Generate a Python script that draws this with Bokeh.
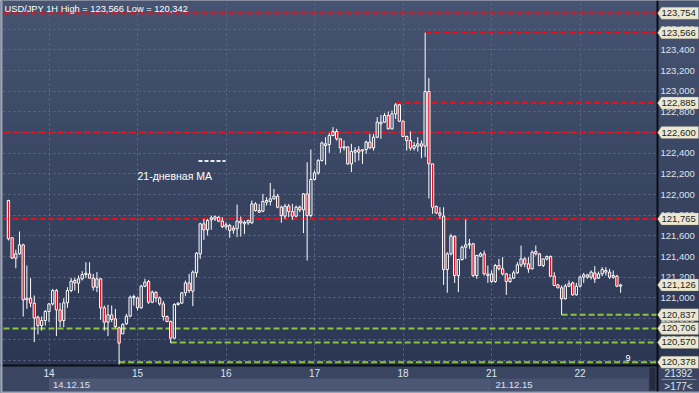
import numpy as np
from bokeh.plotting import figure
from bokeh.models import (Range1d, FixedTicker, CustomJSTickFormatter, Label,
                          BoxAnnotation, PolyAnnotation, Arrow, ColumnDataSource)
from bokeh.embed import file_html
from bokeh.resources import INLINE

# ---------------- data (USD/JPY, 1H bars, 11.12.15 13:00 .. 22.12.15 11:00) ----------------
opens = [
    121.943, 121.582, 121.385, 121.427, 121.514, 120.982, 120.998, 120.950, 120.814, 120.734,
    120.782, 120.869, 120.943, 121.072, 120.885, 120.782, 120.953, 121.072, 121.169, 121.143,
    121.185, 121.227, 121.233, 121.192, 121.104, 121.185, 120.905, 120.766, 120.837, 120.798,
    120.711, 120.653, 120.750, 120.824, 121.001, 121.001, 120.905, 121.114, 121.159, 120.959,
    121.056, 121.001, 120.943, 120.821, 120.772, 120.611, 120.937, 120.950, 121.050, 121.146,
    121.066, 121.243, 121.427, 121.717, 121.659, 121.756, 121.765, 121.781, 121.743, 121.688,
    121.701, 121.656, 121.669, 121.743, 121.717, 121.727, 121.727, 121.910, 121.830, 121.839,
    121.926, 121.933, 121.959, 121.985, 121.878, 121.791, 121.888, 121.836, 121.791, 121.878,
    121.852, 122.007, 121.797, 122.146, 122.210, 122.329, 122.474, 122.484, 122.571, 122.610,
    122.539, 122.452, 122.462, 122.297, 122.410, 122.433, 122.423, 122.436, 122.507, 122.452,
    122.555, 122.684, 122.700, 122.765, 122.636, 122.781, 122.868, 122.710, 122.562, 122.523,
    122.449, 122.468, 122.491, 122.468, 122.997, 122.297, 121.885, 121.823, 121.791, 121.275,
    121.427, 121.598, 121.217, 121.372, 121.491, 121.514, 121.524, 121.217, 121.404, 121.427,
    121.217, 121.233, 121.159, 121.314, 121.282, 121.233, 121.159, 121.192, 121.243, 121.320,
    121.378, 121.330, 121.282, 121.449, 121.427, 121.314, 121.378, 121.401, 121.211, 121.127,
    121.098, 120.992, 121.114, 121.146, 121.030, 121.114, 121.201, 121.224, 121.201, 121.243,
    121.192, 121.233, 121.266, 121.250, 121.201, 121.211, 121.114]
highs = [
    121.950, 121.588, 121.466, 121.643, 121.524, 121.314, 121.192, 121.024, 120.830, 120.821,
    120.885, 120.950, 121.088, 121.088, 120.953, 120.998, 121.104, 121.195, 121.195, 121.217,
    121.259, 121.346, 121.346, 121.233, 121.250, 121.195, 120.927, 120.934, 120.927, 120.895,
    120.724, 120.756, 120.847, 121.024, 121.034, 121.014, 121.127, 121.185, 121.175, 121.072,
    121.063, 121.014, 120.969, 120.830, 120.782, 120.950, 120.959, 121.056, 121.169, 121.233,
    121.266, 121.443, 121.727, 121.765, 121.765, 121.797, 121.797, 121.790, 121.781, 121.733,
    121.717, 121.701, 121.904, 121.788, 121.749, 121.756, 121.943, 121.926, 121.910, 122.007,
    121.975, 122.113, 122.055, 122.007, 121.894, 121.910, 121.910, 121.910, 121.894, 121.894,
    122.013, 122.313, 122.436, 122.233, 122.346, 122.513, 122.555, 122.597, 122.652, 122.636,
    122.545, 122.523, 122.468, 122.491, 122.459, 122.468, 122.436, 122.523, 122.587, 122.587,
    122.749, 122.771, 122.790, 122.803, 122.813, 122.885, 122.877, 122.716, 122.571, 122.610,
    122.507, 122.555, 122.523, 123.566, 123.126, 122.297, 121.894, 121.878, 121.878, 121.443,
    121.620, 121.604, 121.378, 121.507, 121.759, 121.572, 121.533, 121.417, 121.443, 121.459,
    121.314, 121.266, 121.330, 121.378, 121.395, 121.243, 121.233, 121.266, 121.346, 121.507,
    121.395, 121.395, 121.459, 121.507, 121.436, 121.378, 121.411, 121.411, 121.250, 121.137,
    121.121, 121.137, 121.169, 121.159, 121.146, 121.217, 121.243, 121.233, 121.266, 121.308,
    121.256, 121.298, 121.298, 121.282, 121.266, 121.224, 121.137]
lows = [
    121.556, 121.378, 121.288, 121.417, 120.821, 120.895, 120.911, 120.573, 120.647, 120.685,
    120.734, 120.766, 120.927, 120.631, 120.718, 120.718, 120.905, 121.056, 121.072, 121.047,
    121.169, 121.195, 121.185, 121.072, 121.056, 120.789, 120.685, 120.631, 120.766, 120.711,
    120.342, 120.653, 120.740, 120.814, 120.927, 120.879, 120.895, 121.104, 120.943, 120.950,
    120.959, 120.927, 120.782, 120.766, 120.563, 120.605, 120.927, 120.943, 121.017, 121.047,
    120.921, 121.201, 121.378, 121.562, 121.604, 121.659, 121.745, 121.733, 121.675, 121.662,
    121.582, 121.620, 121.588, 121.594, 121.620, 121.707, 121.717, 121.836, 121.823, 121.830,
    121.894, 121.894, 121.952, 121.868, 121.727, 121.765, 121.781, 121.756, 121.781, 121.830,
    121.627, 121.362, 121.781, 122.136, 122.191, 122.320, 122.288, 122.404, 122.565, 122.523,
    122.404, 122.426, 122.288, 122.217, 122.313, 122.329, 122.297, 122.394, 122.442, 122.426,
    122.545, 122.539, 122.694, 122.629, 122.629, 122.732, 122.700, 122.555, 122.426, 122.426,
    122.426, 122.416, 122.352, 122.362, 121.962, 121.814, 121.814, 121.765, 121.127, 121.050,
    121.411, 121.146, 121.056, 121.362, 121.378, 121.475, 121.201, 121.185, 121.395, 121.217,
    121.146, 121.146, 121.146, 121.266, 121.217, 121.030, 121.146, 121.185, 121.233, 121.298,
    121.298, 121.243, 121.275, 121.411, 121.308, 121.298, 121.362, 121.201, 121.114, 121.095,
    120.837, 120.985, 121.104, 121.024, 121.024, 121.101, 121.146, 121.185, 121.179, 121.146,
    121.185, 121.211, 121.217, 121.185, 121.185, 121.104, 121.050]
closes = [
    121.572, 121.385, 121.427, 121.514, 120.982, 120.998, 120.950, 120.805, 120.734, 120.782,
    120.869, 120.943, 121.072, 120.885, 120.776, 120.953, 121.072, 121.162, 121.146, 121.185,
    121.227, 121.240, 121.192, 121.104, 121.185, 120.905, 120.766, 120.837, 120.792, 120.724,
    120.563, 120.743, 120.824, 121.008, 121.014, 120.905, 121.114, 121.153, 120.959, 121.056,
    121.001, 120.943, 120.821, 120.772, 120.611, 120.937, 120.950, 121.050, 121.146, 121.072,
    121.250, 121.433, 121.717, 121.659, 121.749, 121.775, 121.785, 121.743, 121.691, 121.707,
    121.653, 121.675, 121.743, 121.727, 121.733, 121.749, 121.910, 121.846, 121.846, 121.933,
    121.943, 121.959, 121.985, 121.878, 121.797, 121.888, 121.836, 121.791, 121.878, 121.852,
    122.007, 121.797, 122.146, 122.210, 122.329, 122.500, 122.491, 122.571, 122.610, 122.539,
    122.452, 122.462, 122.297, 122.416, 122.426, 122.410, 122.433, 122.507, 122.452, 122.555,
    122.700, 122.700, 122.765, 122.636, 122.781, 122.868, 122.710, 122.562, 122.523, 122.449,
    122.474, 122.491, 122.468, 122.997, 122.297, 121.878, 121.823, 121.800, 121.275, 121.427,
    121.598, 121.217, 121.372, 121.491, 121.514, 121.524, 121.217, 121.411, 121.427, 121.233,
    121.233, 121.159, 121.314, 121.282, 121.233, 121.159, 121.192, 121.243, 121.320, 121.378,
    121.330, 121.282, 121.443, 121.427, 121.314, 121.378, 121.401, 121.211, 121.121, 121.098,
    120.992, 121.114, 121.137, 121.030, 121.114, 121.201, 121.224, 121.201, 121.250, 121.185,
    121.233, 121.275, 121.250, 121.201, 121.217, 121.114, 121.126]

day_ticks = [12, 36, 60, 84, 108, 132, 156]
day_labels = ["14", "15", "16", "17", "18", "21", "22"]
date_ticks = [12, 132]
date_labels = ["14.12.15", "21.12.15"]
price_ticks = [120.4, 120.6, 120.8, 121.0, 121.2, 121.4, 121.6, 121.8,
               122.0, 122.2, 122.4, 122.6, 122.8, 123.0, 123.2, 123.4, 123.6]

levels = [123.754, 123.566, 122.885, 122.600, 121.765, 120.837, 120.706, 120.570, 120.378]
level_kind = ["resist", "resist", "resist", "resist", "resist",
              "support", "support", "support", "support"]
level_from_bar = [0, 114, 106, 0, 0, 151, 0, 45, 31]   # 0 = whole width
last_price = 121.126
title_text = "USD/JPY 1H High = 123,566 Low = 120,342"
ma_text = "21-дневная MA"
counter_top = "21392"
counter_bottom = ">177<"

# ---------------- layout ----------------
W, H = 699, 393
FL, FR, FT, FB = 3, 657, 3, 365          # chart area inside the canvas (px)
CX0, CX1 = -0.34, 177.0                  # bar index at FL / FR
CY0, CY1 = 120.347, 123.848              # price at FB / FT
FONT = "Liberation Sans"

def xpx(px):
    return CX0 + (px - FL) * (CX1 - CX0) / (FR - FL)

def ypx(py):
    return CY1 - (py - FT) * (CY1 - CY0) / (FB - FT)

def fmt(v):
    return f"{v:.3f}".replace(".", ",")

p = figure(width=W, height=H, x_range=Range1d(xpx(0), xpx(W)),
           y_range=Range1d(ypx(H), ypx(0)),
           output_backend="svg", toolbar_location=None, y_axis_location="right",
           min_border_left=0, min_border_top=0, min_border_right=0, min_border_bottom=0,
           background_fill_color="#37435f", border_fill_color="#37435f",
           outline_line_color=None)

# gradient background (chart + right scale)
NG = 64
grad = np.zeros((NG, 1), dtype=np.uint32)
view = grad.view(dtype=np.uint8).reshape((NG, 1, 4))
top_c = np.array([0x46, 0x54, 0x71]); bot_c = np.array([0x2c, 0x37, 0x53])
for k in range(NG):
    t = k / (NG - 1.0)
    view[k, 0, :3] = (bot_c * (1 - t) + top_c * t).astype(np.uint8)
    view[k, 0, 3] = 255
p.image_rgba(image=[grad], x=xpx(0), y=ypx(FB), dw=xpx(W) - xpx(0),
             dh=ypx(0) - ypx(FB), level="image")

# axes (drawn at fixed locations: the price scale right of the chart, days below it)
yax = p.yaxis[0]
yax.fixed_location = CX1
yax.ticker = FixedTicker(ticks=price_ticks)
yax.formatter = CustomJSTickFormatter(code="return tick.toFixed(3).replace('.', ',');")
yax.major_tick_in = 0
yax.major_tick_out = 0
yax.minor_tick_line_color = None
yax.axis_line_color = "#0b0e16"
yax.axis_line_width = 2
yax.major_label_standoff = 3
yax.major_label_text_color = "#dfe4ee"
yax.major_label_text_font = FONT
yax.major_label_text_font_size = "9.5px"

xax = p.xaxis[0]
xax.fixed_location = CY0
xax.ticker = FixedTicker(ticks=day_ticks)
xax.major_label_overrides = {t: l for t, l in zip(day_ticks, day_labels)}
xax.major_tick_in = 0
xax.major_tick_out = 0
xax.minor_tick_line_color = None
xax.axis_line_color = "#0b0e16"
xax.axis_line_width = 2
xax.major_label_standoff = 3
xax.major_label_text_color = "#dfe4ee"
xax.major_label_text_font = FONT
xax.major_label_text_font_size = "10px"

p.xgrid.ticker = FixedTicker(ticks=day_ticks)
p.ygrid.ticker = FixedTicker(ticks=price_ticks)
grid_ok = True
try:
    p.ygrid[0].cross_bounds = (CX0, CX1)
    p.xgrid[0].cross_bounds = (CY0, CY1)
except AttributeError:
    grid_ok = False
if grid_ok:
    for g in (p.xgrid[0], p.ygrid[0]):
        g.grid_line_color = "#5f6b87"
        g.grid_line_dash = "2 3"
        g.grid_line_width = 1
else:
    p.xgrid.visible = False
    p.ygrid.visible = False
    p.segment(x0=CX0, y0=price_ticks, x1=CX1, y1=price_ticks, line_color="#5f6b87",
              line_dash="2 3", level="underlay")
    p.segment(x0=day_ticks, y0=CY0, x1=day_ticks, y1=CY1, line_color="#5f6b87",
              line_dash="2 3", level="underlay")

# bottom rows and right-bottom box backgrounds
def box(l, r, t, b, color, level="underlay"):
    p.add_layout(BoxAnnotation(left=l, right=r, top=t, bottom=b, fill_color=color,
                               fill_alpha=1, line_color=None, level=level))

box(xpx(0), xpx(W), ypx(FB), ypx(H), "#3a4661")
box(date_ticks[0], date_ticks[1], ypx(378), ypx(391), "#4b5775")
box(date_ticks[1], xpx(648), ypx(378), ypx(391), "#46526f")
box(xpx(649), xpx(655), ypx(367), ypx(390), "#232b3c")
box(xpx(661), xpx(696), ypx(378.5), ypx(379.5), "#7d8aa1")

# support / resistance levels
lv = np.array(levels)
lf = np.array(level_from_bar, dtype=float)
lsrc = ColumnDataSource(dict(
    x0=np.where(lf == 0, CX0, lf), y=lv,
    color=["#e8101a" if k == "resist" else "#8cc43c" for k in level_kind]))
p.segment(x0="x0", y0="y", x1=CX1, y1="y", source=lsrc, line_color="color",
          line_width=2, line_dash="6 3")

# candles
o = np.array(opens); h = np.array(highs); l = np.array(lows); c = np.array(closes)
xs = np.arange(1, len(o) + 1)
btop = np.maximum(o, c); bbot = np.minimum(o, c)
p.segment(x0=xs, y0=h, x1=xs, y1=btop, line_color="white", line_width=1)
p.segment(x0=xs, y0=bbot, x1=xs, y1=l, line_color="white", line_width=1)
up = c >= o
p.vbar(x=xs[up], top=btop[up], bottom=bbot[up], width=0.62,
       fill_alpha=0, line_color="white", line_width=1)
p.vbar(x=xs[~up], top=btop[~up], bottom=bbot[~up], width=0.62,
       fill_color="#e3101c", line_color="white", line_width=1)

# title and MA legend
p.add_layout(Label(x=xpx(4), y=ypx(8.5), text=title_text, text_baseline="middle",
                   text_color="#ffffff", text_font=FONT, text_font_size="9.3px"))
p.add_layout(Label(x=xpx(137), y=ypx(175), text=ma_text, text_baseline="middle",
                   text_color="#ffffff", text_font=FONT, text_font_size="10.5px"))
p.add_layout(Arrow(end=None, x_start=xpx(198), y_start=ypx(160.5), x_end=xpx(225),
                   y_end=ypx(160.5), line_color="#e8ecf2", line_width=2, line_dash="4 2"))
p.add_layout(Label(x=xpx(625), y=ypx(357), text="9", text_baseline="middle",
                   text_color="#ffffff", text_font=FONT, text_font_size="9px"))

# price tags on the right scale
tag_vals = levels + [last_price]
hh = 6.0 * (CY1 - CY0) / (FB - FT)
for v in tag_vals:
    p.add_layout(PolyAnnotation(
        xs=[CX1, xpx(661), xpx(698), xpx(698), xpx(661)],
        ys=[v, v + hh, v + hh, v - hh, v - hh],
        fill_color="#ebe8d1", fill_alpha=1, line_color="#8d8b7b", line_width=1))
    p.add_layout(Label(x=xpx(661), y=v, text=fmt(v), text_baseline="middle",
                       text_color="#1d1d1d", text_font=FONT, text_font_size="9.5px"))

# date row labels
for t, lab in zip(date_ticks, date_labels):
    p.add_layout(Label(x=t, y=ypx(384.5), x_offset=4, text=lab, text_baseline="middle",
                       text_color="#dfe4ee", text_font=FONT, text_font_size="9.5px"))
# bottom-right counters
p.add_layout(Label(x=xpx(678), y=ypx(372.5), text=counter_top, text_align="center",
                   text_baseline="middle", text_color="#dfe4ee", text_font=FONT,
                   text_font_size="10px"))
p.add_layout(Label(x=xpx(678), y=ypx(385.5), text=counter_bottom, text_align="center",
                   text_baseline="middle", text_color="#dfe4ee", text_font=FONT,
                   text_font_size="10px"))
# outer frame border
box(xpx(0), xpx(2), ypx(0), ypx(H), "#9aa4b5", level="annotation")
box(xpx(0), xpx(W), ypx(391), ypx(H), "#9aa4b5", level="annotation")

open("out.html", "w").write(file_html(p, INLINE))
